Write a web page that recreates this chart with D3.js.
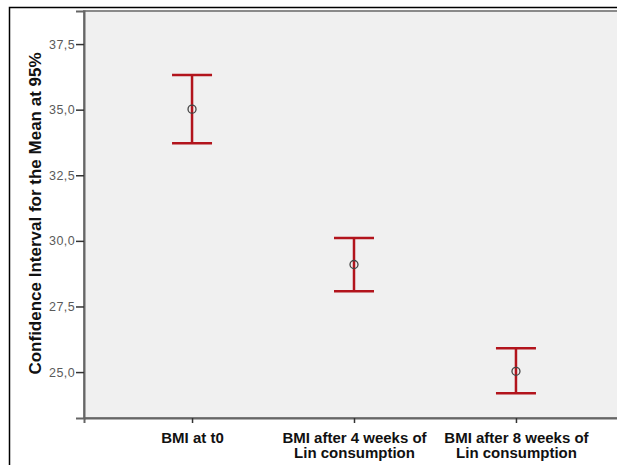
<!DOCTYPE html>
<html><head><meta charset="utf-8">
<script src="https://cdn.jsdelivr.net/npm/d3@7"></script>
<style>body{margin:0;background:#fff}svg{display:block}</style>
</head><body>
<svg id="c" width="617" height="465"></svg>
<script>
const categories = [["BMI at t0"], ["BMI after 4 weeks of", "Lin consumption"], ["BMI after 8 weeks of", "Lin consumption"]];
const means = [35.02, 29.10, 25.03];
const upper = [36.32, 30.11, 25.91];
const lower = [33.72, 28.08, 24.19];
const yTicks = [25.0, 27.5, 30.0, 32.5, 35.0, 37.5];
const yLabel = "Confidence Interval for the Mean at 95%";

const svg = d3.select("#c");
const L = 84, R = 624, T = 11, B = 418;
// outer frame
svg.append("rect").attr("x", 9.5).attr("y", 7.5).attr("width", 640).attr("height", 500)
  .attr("fill", "#fff").attr("stroke", "#000").attr("stroke-width", 1.5);
// plot background
svg.append("rect").attr("x", L).attr("y", T).attr("width", R - L).attr("height", B - T)
  .attr("fill", "#f0f0f0").attr("stroke", "#8a8a8a").attr("stroke-width", 2);

const x = d3.scalePoint().domain(d3.range(categories.length)).range([L, R]).padding(0.667);
const y = d3.scaleLinear().domain([23.25, 38.76]).range([B, T]);

const fmt = d => d3.format(".1f")(d).replace(".", ",");
const ya = svg.append("g").attr("transform", `translate(${L},0)`)
  .call(d3.axisLeft(y).tickValues(yTicks).tickFormat(fmt).tickSize(8).tickPadding(1));
ya.select(".domain").attr("stroke", "#666").attr("stroke-width", 2);
ya.selectAll(".tick line").attr("stroke", "#333").attr("stroke-width", 1.5);
ya.selectAll(".tick text").attr("fill", "#5a5a5a")
  .style("font", "12.5px 'Liberation Sans', Arial, sans-serif").style("letter-spacing", "0.4px");

const xa = svg.append("g").attr("transform", `translate(0,${B})`)
  .call(d3.axisBottom(x).tickSize(5).tickFormat(""));
xa.select(".domain").attr("stroke", "#666").attr("stroke-width", 2);
xa.selectAll(".tick line").attr("stroke", "#333").attr("stroke-width", 1.5);
xa.selectAll(".tick").each(function(d) {
  const t = d3.select(this).append("text").attr("fill", "#111")
    .attr("text-anchor", "middle")
    .style("font", "bold 15px 'Liberation Sans', Arial, sans-serif");
  categories[d].forEach((line, i) => t.append("tspan").attr("x", 0).attr("y", 24.5 + i * 15.7).text(line));
});

svg.append("text").attr("transform", `translate(41,213.5) rotate(-90)`)
  .attr("text-anchor", "middle").attr("fill", "#111")
  .style("font", "bold 17px 'Liberation Sans', Arial, sans-serif").text(yLabel);

const red = "#b2141c";
const g = svg.append("g");
means.forEach((m, i) => {
  const cx = x(i);
  g.append("line").attr("x1", cx).attr("x2", cx).attr("y1", y(upper[i])).attr("y2", y(lower[i]))
    .attr("stroke", red).attr("stroke-width", 2.5);
  [upper[i], lower[i]].forEach(v => g.append("line").attr("x1", cx - 20).attr("x2", cx + 20)
    .attr("y1", y(v)).attr("y2", y(v)).attr("stroke", red).attr("stroke-width", 2.5));
  g.append("circle").attr("cx", cx).attr("cy", y(m)).attr("r", 4)
    .attr("fill", "none").attr("stroke", "#444").attr("stroke-width", 1.3);
});
</script>
</body></html>
